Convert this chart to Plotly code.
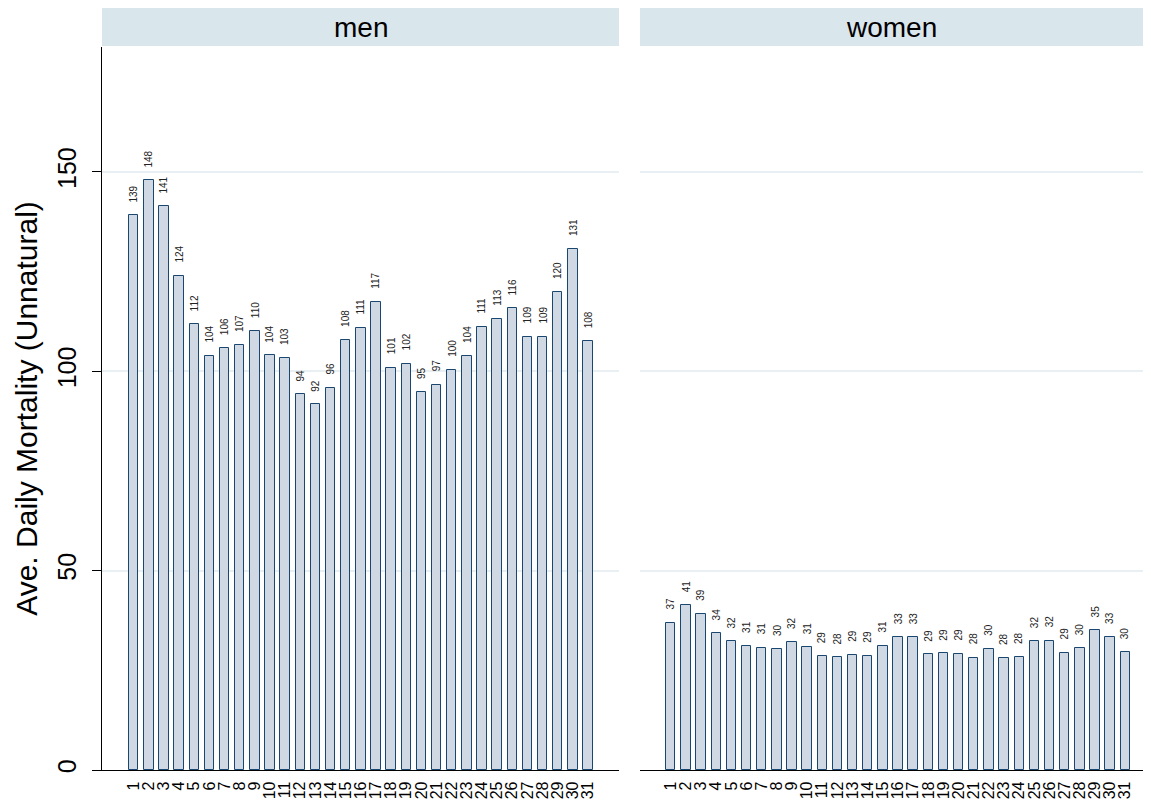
import plotly.graph_objects as go

# day of month
days = list(range(1, 32))

# average daily unnatural mortality
men = [139.1, 147.9, 141.4, 123.9, 111.8, 103.9, 105.8, 106.6, 110.0, 104.0,
       103.2, 94.2, 91.7, 95.8, 107.9, 110.9, 117.4, 100.9, 101.9, 94.9,
       96.6, 100.4, 103.9, 111.2, 113.2, 115.8, 108.7, 108.7, 119.9, 130.7,
       107.6]
women = [36.9, 41.3, 39.2, 34.3, 32.3, 31.0, 30.7, 30.3, 32.1, 30.8,
         28.6, 28.3, 28.8, 28.6, 31.2, 33.3, 33.3, 29.0, 29.3, 29.1,
         28.2, 30.4, 28.1, 28.4, 32.4, 32.4, 29.4, 30.5, 35.0, 33.4,
         29.6]

panel_titles = ["men", "women"]
y_ticks = [0, 50, 100, 150]

# the page body has an 8px margin and the last 8px on the right are not shown
OFF = 8
W, H = 1151 - 2 * OFF, 802 - OFF
FONT = "Liberation Sans, Arial, sans-serif"
BAR_FILL = "#d0d9e3"
BAR_LINE = "#1a476f"
GRID = "#e8f0f3"
STRIP = "#d9e6ec"

# panel geometry in window pixels
men_x = (102, 619)
women_x = (640, 1143)
plot_top, plot_bottom = 47, 770
strip_top = 8


def px_x(p):
    return (p - OFF) / W


def px_y(p):
    return (H - (p - OFF)) / H


def bar_trace(values, xaxis, yaxis):
    return go.Bar(x=days, y=values, xaxis=xaxis, yaxis=yaxis, width=0.62,
                  marker=dict(color=BAR_FILL, line=dict(color=BAR_LINE, width=1)),
                  showlegend=False, hoverinfo="x+y")


def value_labels(values, xref, yref):
    return [dict(x=d, y=v, xref=xref, yref=yref, text=str(int(round(v))),
                 textangle=-90, showarrow=False, yanchor="bottom", yshift=11,
                 font=dict(size=10, color="#222222", family=FONT))
            for d, v in zip(days, values)]


fig = go.Figure()
fig.add_trace(bar_trace(men, "x", "y"))
fig.add_trace(bar_trace(women, "x2", "y2"))

y_dom = [px_y(plot_bottom), px_y(plot_top)]
y_range = [0, 181.3]

common_x = dict(tickmode="array", tickvals=days, ticktext=[str(d) for d in days],
                tickangle=-90, ticks="", showgrid=False, zeroline=False,
                showline=True, linecolor="black", linewidth=1.3,
                ticklabelstandoff=4,
                tickfont=dict(size=16, color="black", family=FONT), automargin=False)

fig.update_layout(
    width=W, height=H,
    margin=dict(l=0, r=0, t=0, b=0),
    paper_bgcolor="white", plot_bgcolor="white",
    bargap=0,
    xaxis=dict(domain=[px_x(men_x[0]), px_x(men_x[1])], range=[-1.094, 33.05],
               anchor="y", **common_x),
    xaxis2=dict(domain=[px_x(women_x[0]), px_x(women_x[1])], range=[-1.03, 32.17],
                anchor="y2", **common_x),
    yaxis=dict(domain=y_dom, range=y_range, anchor="x",
               tickmode="array", tickvals=y_ticks, tickangle=-90,
               ticks="outside", ticklen=9, tickcolor="black", tickwidth=1.3,
               showline=True, linecolor="black", linewidth=1.3,
               showgrid=True, gridcolor=GRID, gridwidth=1.5, zeroline=False,
               ticklabelstandoff=6,
               tickfont=dict(size=25, color="black", family=FONT),
               title=dict(text="Ave. Daily Mortality (Unnatural)", standoff=6,
                          font=dict(size=30, color="black", family=FONT)),
               automargin=False),
    yaxis2=dict(domain=y_dom, range=y_range, anchor="x2",
                tickmode="array", tickvals=y_ticks, showticklabels=False,
                ticks="", showline=False, showgrid=True, gridcolor=GRID,
                gridwidth=1.5, zeroline=False, automargin=False),
)

# facet strips
shapes = []
annotations = []
for title, (x0, x1) in zip(panel_titles, [men_x, women_x]):
    shapes.append(dict(type="rect", xref="paper", yref="paper",
                       x0=px_x(x0), x1=px_x(x1), y0=px_y(plot_top - 1), y1=px_y(strip_top),
                       fillcolor=STRIP, line=dict(width=0), layer="below"))
    annotations.append(dict(x=px_x((x0 + x1) / 2), y=px_y((strip_top + plot_top) / 2),
                            xref="paper", yref="paper", text=title, showarrow=False,
                            xanchor="center", yanchor="middle",
                            font=dict(size=28, color="black", family=FONT)))

annotations += value_labels(men, "x", "y")
annotations += value_labels(women, "x2", "y2")
fig.update_layout(shapes=shapes, annotations=annotations)

fig.write_html("out.html")
